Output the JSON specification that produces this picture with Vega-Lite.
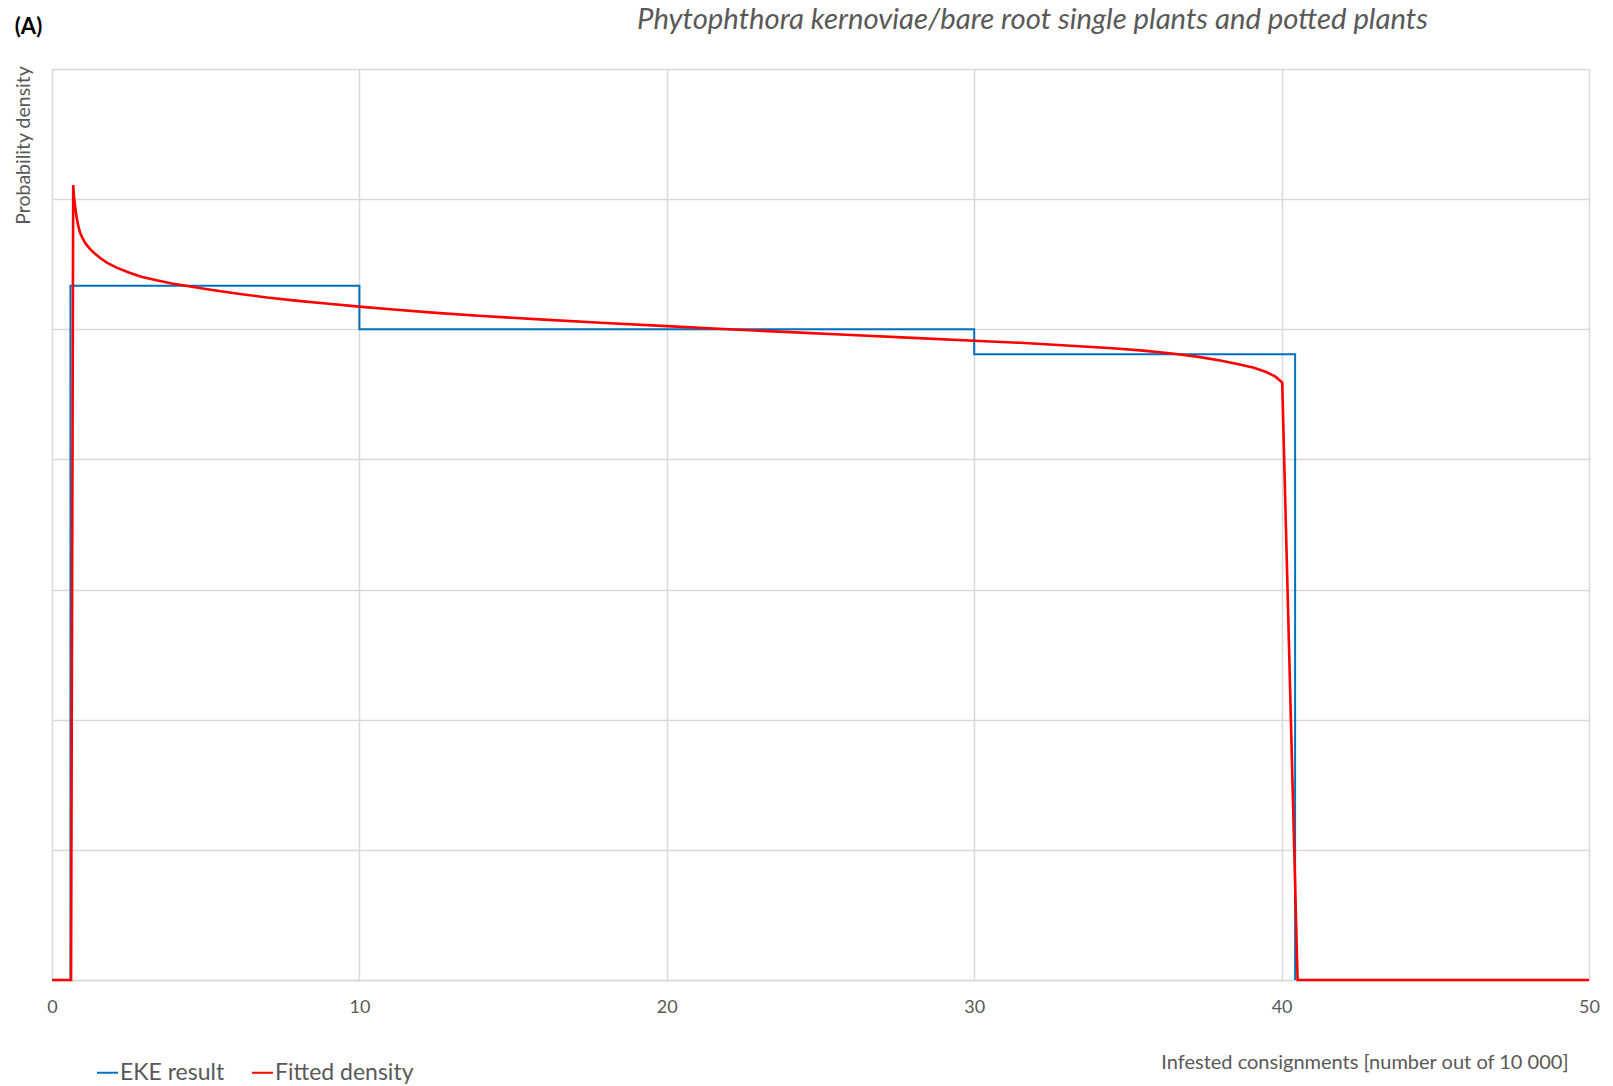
{
  "$schema": "https://vega.github.io/schema/vega-lite/v6.json",
  "width": 1537,
  "height": 911,
  "autosize": {"type": "none"},
  "padding": {"left": 52, "top": 69, "right": 24, "bottom": 106},
  "background": "white",
  "title": {
    "text": "Phytophthora kernoviae/bare root single plants and potted plants",
    "anchor": "middle",
    "dx": 212,
    "offset": -20,
    "font": "Lato",
    "fontStyle": "italic",
    "fontWeight": "normal",
    "fontSize": 29.3,
    "color": "#595959"
  },
  "data": {
    "values": [
      {"series": "EKE result", "i": 1, "x": 0.6, "y": 0},
      {"series": "EKE result", "i": 2, "x": 0.6, "y": 0.02667},
      {"series": "EKE result", "i": 3, "x": 10, "y": 0.02667},
      {"series": "EKE result", "i": 4, "x": 10, "y": 0.025},
      {"series": "EKE result", "i": 5, "x": 30, "y": 0.025},
      {"series": "EKE result", "i": 6, "x": 30, "y": 0.02404},
      {"series": "EKE result", "i": 7, "x": 40.44, "y": 0.02404},
      {"series": "EKE result", "i": 8, "x": 40.44, "y": 0},
      {"series": "Fitted density", "i": 1, "x": 0, "y": 0},
      {"series": "Fitted density", "i": 2, "x": 0.62, "y": 0},
      {"series": "Fitted density", "i": 3, "x": 0.69, "y": 0.03054},
      {"series": "Fitted density", "i": 4, "x": 0.70, "y": 0.03035},
      {"series": "Fitted density", "i": 5, "x": 0.72, "y": 0.03005},
      {"series": "Fitted density", "i": 6, "x": 0.75, "y": 0.02975},
      {"series": "Fitted density", "i": 7, "x": 0.80, "y": 0.0293},
      {"series": "Fitted density", "i": 8, "x": 0.85, "y": 0.029},
      {"series": "Fitted density", "i": 9, "x": 0.91, "y": 0.02872},
      {"series": "Fitted density", "i": 10, "x": 1.0, "y": 0.02848},
      {"series": "Fitted density", "i": 11, "x": 1.1, "y": 0.02828},
      {"series": "Fitted density", "i": 12, "x": 1.24, "y": 0.02808},
      {"series": "Fitted density", "i": 13, "x": 1.4, "y": 0.0279},
      {"series": "Fitted density", "i": 14, "x": 1.6, "y": 0.02771},
      {"series": "Fitted density", "i": 15, "x": 1.8, "y": 0.02755},
      {"series": "Fitted density", "i": 16, "x": 2.1, "y": 0.02737},
      {"series": "Fitted density", "i": 17, "x": 2.5, "y": 0.02718},
      {"series": "Fitted density", "i": 18, "x": 2.9, "y": 0.02702},
      {"series": "Fitted density", "i": 19, "x": 3.4, "y": 0.02688},
      {"series": "Fitted density", "i": 20, "x": 3.9, "y": 0.02676},
      {"series": "Fitted density", "i": 21, "x": 4.4, "y": 0.02666},
      {"series": "Fitted density", "i": 22, "x": 5.0, "y": 0.02655},
      {"series": "Fitted density", "i": 23, "x": 5.6, "y": 0.02644},
      {"series": "Fitted density", "i": 24, "x": 6.3, "y": 0.02633},
      {"series": "Fitted density", "i": 25, "x": 7.0, "y": 0.02622},
      {"series": "Fitted density", "i": 26, "x": 8.0, "y": 0.02609},
      {"series": "Fitted density", "i": 27, "x": 9.0, "y": 0.02598},
      {"series": "Fitted density", "i": 28, "x": 10.0, "y": 0.02587},
      {"series": "Fitted density", "i": 29, "x": 11.0, "y": 0.02577},
      {"series": "Fitted density", "i": 30, "x": 12.5, "y": 0.02563},
      {"series": "Fitted density", "i": 31, "x": 14, "y": 0.02551},
      {"series": "Fitted density", "i": 32, "x": 16, "y": 0.02537},
      {"series": "Fitted density", "i": 33, "x": 18, "y": 0.02524},
      {"series": "Fitted density", "i": 34, "x": 20, "y": 0.02512},
      {"series": "Fitted density", "i": 35, "x": 22, "y": 0.025},
      {"series": "Fitted density", "i": 36, "x": 24, "y": 0.02489},
      {"series": "Fitted density", "i": 37, "x": 26, "y": 0.02478},
      {"series": "Fitted density", "i": 38, "x": 28, "y": 0.02467},
      {"series": "Fitted density", "i": 39, "x": 30, "y": 0.02456},
      {"series": "Fitted density", "i": 40, "x": 31.5, "y": 0.02448},
      {"series": "Fitted density", "i": 41, "x": 33, "y": 0.02438},
      {"series": "Fitted density", "i": 42, "x": 34.5, "y": 0.02427},
      {"series": "Fitted density", "i": 43, "x": 35.5, "y": 0.02418},
      {"series": "Fitted density", "i": 44, "x": 36.5, "y": 0.02406},
      {"series": "Fitted density", "i": 45, "x": 37.3, "y": 0.02394},
      {"series": "Fitted density", "i": 46, "x": 38.0, "y": 0.0238},
      {"series": "Fitted density", "i": 47, "x": 38.6, "y": 0.02366},
      {"series": "Fitted density", "i": 48, "x": 39.1, "y": 0.02352},
      {"series": "Fitted density", "i": 49, "x": 39.5, "y": 0.02336},
      {"series": "Fitted density", "i": 50, "x": 39.8, "y": 0.02318},
      {"series": "Fitted density", "i": 51, "x": 40.02, "y": 0.02295},
      {"series": "Fitted density", "i": 52, "x": 40.52, "y": 0},
      {"series": "Fitted density", "i": 53, "x": 50, "y": 0}
    ]
  },
  "layer": [
    {
      "transform": [{"filter": "datum.series === 'EKE result'"}],
      "mark": {"type": "line", "strokeWidth": 2, "strokeCap": "butt", "strokeJoin": "miter"},
      "encoding": {
        "x": {
          "field": "x", "type": "quantitative",
          "scale": {"domain": [0, 50], "nice": false, "zero": false},
          "axis": {
            "orient": "bottom",
            "values": [0, 10, 20, 30, 40, 50],
            "grid": true, "gridColor": "#d9d9d9", "gridWidth": 1.5,
            "domain": true, "domainColor": "#d9d9d9", "domainWidth": 1.5,
            "ticks": false,
            "labelFont": "Lato", "labelFontSize": 18, "labelColor": "#595959", "labelPadding": 18,
            "labelFlush": false,
            "title": "Infested consignments [number out of 10 000]",
            "titleFont": "Lato", "titleFontSize": 20, "titleFontWeight": "normal", "titleColor": "#595959",
            "titleAlign": "right", "titleBaseline": "middle", "titleAnchor": null,
            "titleX": 1516, "titleY": 82
          }
        },
        "y": {
          "field": "y", "type": "quantitative",
          "scale": {"domain": [0, 0.035], "nice": false, "zero": true},
          "axis": {
            "values": [0, 0.005, 0.01, 0.015, 0.02, 0.025, 0.03, 0.035],
            "grid": true, "gridColor": "#d9d9d9", "gridWidth": 1.5,
            "domain": false, "ticks": false, "labels": false,
            "title": "Probability density",
            "titleFont": "Lato", "titleFontSize": 19.5, "titleFontWeight": "normal", "titleColor": "#595959",
            "titleAngle": -90, "titleAlign": "center", "titleBaseline": "middle",
            "titleX": -29, "titleY": 76
          }
        },
        "order": {"field": "i", "type": "quantitative"},
        "color": {
          "field": "series", "type": "nominal",
          "scale": {"domain": ["EKE result", "Fitted density"], "range": ["#0070C0", "#FF0000"]},
          "legend": {
            "title": null,
            "orient": "none",
            "direction": "horizontal",
            "legendX": 44,
            "legendY": 992,
            "symbolType": "stroke",
            "symbolSize": 441,
            "symbolStrokeWidth": 2,
            "labelFont": "Lato",
            "labelFontSize": 23,
            "labelColor": "#595959",
            "labelOffset": 1,
            "columnPadding": 23
          }
        }
      }
    },
    {
      "transform": [{"filter": "datum.series === 'Fitted density'"}],
      "mark": {"type": "line", "strokeWidth": 2.6, "strokeCap": "butt", "strokeJoin": "miter"},
      "encoding": {
        "x": {
          "field": "x", "type": "quantitative",
          "axis": {
            "orient": "top",
            "labels": false, "ticks": false, "domain": false, "grid": false,
            "title": "(A)",
            "titleFont": "Lato", "titleFontSize": 22, "titleFontWeight": "bold", "titleColor": "#000000",
            "titleAlign": "center", "titleBaseline": "middle", "titleAnchor": null,
            "titleX": -24, "titleY": -43
          }
        },
        "y": {"field": "y", "type": "quantitative"},
        "order": {"field": "i", "type": "quantitative"},
        "color": {"field": "series", "type": "nominal"}
      }
    }
  ],
  "resolve": {"axis": {"x": "independent"}},
  "config": {
    "view": {"stroke": null},
    "font": "Lato"
  }
}
